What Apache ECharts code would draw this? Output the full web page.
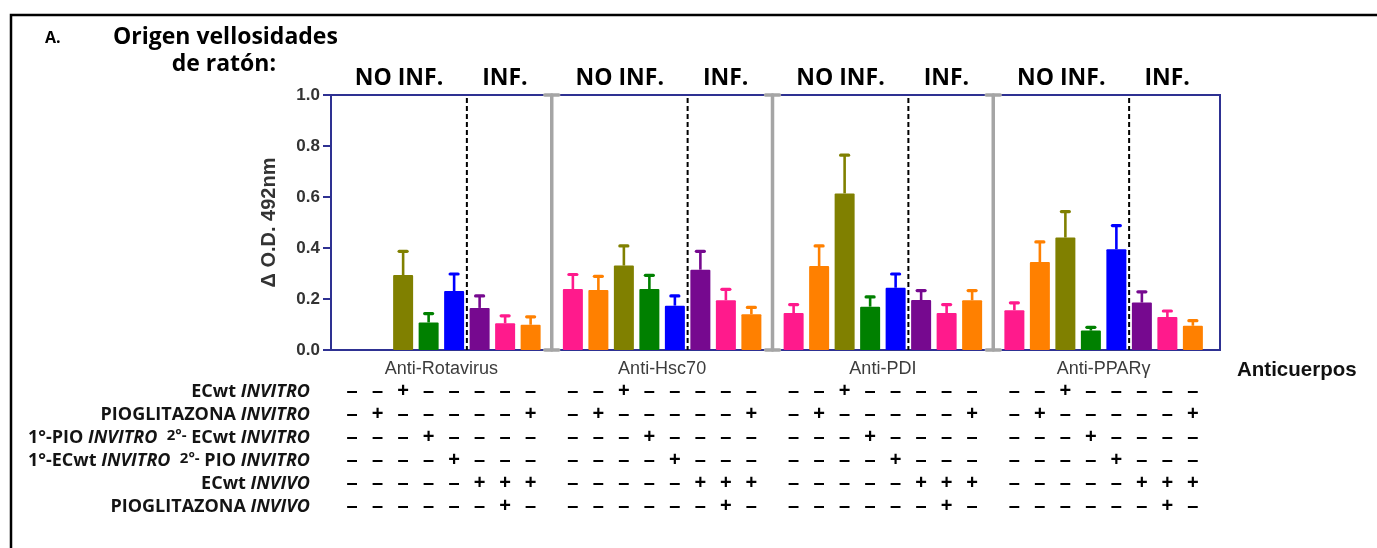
<!DOCTYPE html>
<html>
<head>
<meta charset="utf-8">
<title>Origen vellosidades de ratón</title>
<script src="https://cdn.jsdelivr.net/npm/echarts@6/dist/echarts.min.js"></script>
<style>
  html, body { margin: 0; padding: 0; background: #fff; }
  #main { width: 1377px; height: 548px; }
</style>
</head>
<body>
<div id="main"></div>
<script>
// grupos de anticuerpos (eje x)
var groups = ['Anti-Rotavirus', 'Anti-Hsc70', 'Anti-PDI', 'Anti-PPARγ'];

// 8 condiciones por grupo, mismo orden que la tabla de abajo
var barColors = ['#FF1A8C', '#FF8000', '#808000', '#008000', '#0000FF', '#76098F', '#FF1A8C', '#FF8000'];

// medias (Δ O.D. 492nm)
var rotavirusMean = [null, null, 0.294, 0.108, 0.231, 0.165, 0.105, 0.099];
var hsc70Mean     = [0.239, 0.235, 0.331, 0.239, 0.174, 0.315, 0.195, 0.140];
var pdiMean       = [0.145, 0.329, 0.614, 0.170, 0.244, 0.196, 0.145, 0.195];
var pparMean      = [0.156, 0.345, 0.441, 0.076, 0.395, 0.186, 0.129, 0.095];

// error (barra superior)
var rotavirusErr = [null, null, 0.093, 0.035, 0.067, 0.047, 0.029, 0.031];
var hsc70Err     = [0.057, 0.054, 0.077, 0.054, 0.038, 0.072, 0.043, 0.027];
var pdiErr       = [0.033, 0.079, 0.150, 0.038, 0.054, 0.037, 0.033, 0.038];
var pparErr      = [0.029, 0.079, 0.102, 0.013, 0.093, 0.042, 0.024, 0.020];

// tabla de tratamientos
var rowLabels = [
  'ECwt {i|INVITRO}',
  'PIOGLITAZONA {i|INVITRO}',
  '1°-PIO {i|INVITRO}  {s|2°-} ECwt {i|INVITRO}',
  '1°-ECwt {i|INVITRO}  {s|2°-} PIO {i|INVITRO}',
  'ECwt {i|INVIVO}',
  'PIOGLITAZONA {i|INVIVO}'
];
var signRows = [
  '--+-----',
  '-+-----+',
  '---+----',
  '----+---',
  '-----+++',
  '------+-'
];
var headerLabels = ['NO INF.', 'INF.'];

var meanByGroup = [rotavirusMean, hsc70Mean, pdiMean, pparMean];
var errByGroup = [rotavirusErr, hsc70Err, pdiErr, pparErr];

var NAVY = '#2E3192';
var PITCH = 25.5;   // distancia entre barras
var BAR_W = 20;

var chart = echarts.init(document.getElementById('main'));

// series de barras, una por condicion
var barSeries = barColors.map(function (c, i) {
  return {
    type: 'bar',
    name: 'cond' + (i + 1),
    xAxisIndex: 0, yAxisIndex: 0,
    barWidth: BAR_W,
    barGap: ((PITCH - BAR_W) / BAR_W * 100) + '%',
    itemStyle: { color: c, borderRadius: 1 },
    data: meanByGroup.map(function (g) { return g[i] == null ? '-' : g[i]; })
  };
});

var errData = [];
meanByGroup.forEach(function (g, gi) {
  g.forEach(function (m, i) {
    if (m != null) errData.push([gi, i, m, errByGroup[gi][i]]);
  });
});

var signData = [];
groups.forEach(function (g, gi) {
  signRows.forEach(function (row, r) {
    for (var c = 0; c < row.length; c++) signData.push([gi, r, c, row[c] === '+' ? 1 : 0]);
  });
});

var option = {
  animation: false,
  grid: [
    { left: 331, top: 95, width: 883, height: 255 },
    { left: 331, top: 380, width: 883, height: 138 }
  ],
  xAxis: [
    {
      type: 'category', gridIndex: 0, data: groups,
      axisLine: { lineStyle: { color: NAVY, width: 2 } },
      axisTick: { alignWithLabel: true, length: 7, lineStyle: { color: NAVY, width: 2 } },
      axisLabel: { margin: 10, fontSize: 18, color: '#3c3c3c', fontFamily: 'Liberation Sans' },
      name: 'Anticuerpos', nameLocation: 'end', nameGap: 23,
      nameTextStyle: { fontSize: 20.5, fontWeight: 'bold', color: '#111', fontFamily: 'Liberation Sans',
        align: 'left', verticalAlign: 'top', padding: [10, 0, 0, 0] }
    },
    { type: 'category', gridIndex: 1, data: groups, show: false }
  ],
  yAxis: [
    {
      type: 'value', gridIndex: 0, min: 0, max: 1, interval: 0.2,
      splitLine: { show: false },
      axisLine: { show: true, lineStyle: { color: NAVY, width: 2 } },
      axisTick: { show: true, length: 8, lineStyle: { color: NAVY, width: 2 } },
      axisLabel: { margin: 11, fontSize: 17, fontWeight: 'bold', color: '#333', fontFamily: 'Liberation Sans',
        formatter: function (v) { return v.toFixed(1); } },
      name: 'Δ O.D. 492nm', nameLocation: 'middle', nameGap: 52, nameRotate: 90,
      nameTextStyle: { fontSize: 20, fontWeight: 'bold', color: '#333', fontFamily: 'Liberation Sans' }
    },
    {
      type: 'category', gridIndex: 1, data: rowLabels, inverse: true,
      axisLine: { show: false }, axisTick: { show: false },
      axisLabel: {
        interval: 0, hideOverlap: false,
        margin: 21, fontSize: 18, fontWeight: 'bold', color: '#141414', fontFamily: 'Open Sans',
        rich: {
          i: { fontSize: 18, fontWeight: 'bold', fontStyle: 'italic', color: '#141414', fontFamily: 'Open Sans' },
          s: { fontSize: 15, fontWeight: 'bold', color: '#141414', fontFamily: 'Open Sans', padding: [0, 0, 3, 0] }
        }
      }
    }
  ],
  graphic: [
    // marco exterior de la figura
    { type: 'polyline', shape: { points: [[11, 548], [11, 15], [1377, 15]] },
      style: { stroke: '#000', lineWidth: 2.5, fill: null } },
    // cierre del recuadro del grafico (arriba y derecha)
    { type: 'polyline', shape: { points: [[1213, 350], [1220, 350], [1220, 95], [331, 95]] },
      style: { stroke: NAVY, lineWidth: 2, fill: null } },
    { type: 'text', x: 45, y: 38, style: { text: 'A.', fontSize: 16, fontWeight: 'bold', fontFamily: 'Open Sans',
      fill: '#000', align: 'left', verticalAlign: 'middle' } },
    { type: 'text', x: 113, y: 37, style: { text: 'Origen vellosidades', fontSize: 23, fontWeight: 'bold',
      fontFamily: 'Open Sans', fill: '#000', align: 'left', verticalAlign: 'middle' } },
    { type: 'text', x: 276, y: 64, style: { text: 'de ratón:', fontSize: 23, fontWeight: 'bold',
      fontFamily: 'Open Sans', fill: '#000', align: 'right', verticalAlign: 'middle' } }
  ],
  series: barSeries.concat([
    {
      // barras de error
      type: 'custom', xAxisIndex: 0, yAxisIndex: 0, z: 3,
      encode: { x: 0, y: 2 },
      data: errData,
      renderItem: function (params, api) {
        var gi = api.value(0), i = api.value(1), m = api.value(2), e = api.value(3);
        var base = api.coord([gi, m]);
        var top = api.coord([gi, m + e]);
        var x = base[0] + (i - 3.5) * PITCH;
        var col = barColors[i];
        return {
          type: 'group',
          children: [
            { type: 'line', shape: { x1: x, y1: base[1], x2: x, y2: top[1] },
              style: { stroke: col, lineWidth: 2.6 } },
            { type: 'line', shape: { x1: x - 4, y1: top[1], x2: x + 4, y2: top[1] },
              style: { stroke: col, lineWidth: 3.2, lineCap: 'round' } }
          ]
        };
      }
    },
    {
      // separadores, lineas punteadas y encabezados NO INF. / INF.
      type: 'custom', xAxisIndex: 0, yAxisIndex: 0, z: 4,
      encode: { x: 0 },
      data: groups.map(function (g, gi) { return [gi]; }),
      renderItem: function (params, api) {
        var gi = api.value(0);
        var b = api.coord([gi, 0]);
        var t = api.coord([gi, 1]);
        var band = api.size([1, 0])[0];
        var xDash = b[0] + PITCH;
        var kids = [
          { type: 'line', shape: { x1: xDash, y1: t[1] + 3, x2: xDash, y2: b[1] },
            style: { stroke: '#000', lineWidth: 2, lineDash: [5, 3] } },
          { type: 'text', x: b[0] - band / 2 + 68, y: t[1] - 17,
            style: { text: headerLabels[0], fontSize: 23, fontWeight: 'bold', fontFamily: 'Open Sans',
              fill: '#000', align: 'center', verticalAlign: 'middle' } },
          { type: 'text', x: xDash + 38, y: t[1] - 17,
            style: { text: headerLabels[1], fontSize: 23, fontWeight: 'bold', fontFamily: 'Open Sans',
              fill: '#000', align: 'center', verticalAlign: 'middle' } }
        ];
        if (gi < groups.length - 1) {
          var xs = b[0] + band / 2;
          var gray = { stroke: '#A5A5A5', lineWidth: 3.5, lineCap: 'round' };
          kids.push(
            { type: 'line', shape: { x1: xs, y1: t[1], x2: xs, y2: b[1] }, style: gray },
            { type: 'line', shape: { x1: xs - 7, y1: t[1], x2: xs + 7, y2: t[1] }, style: gray },
            { type: 'line', shape: { x1: xs - 7, y1: b[1], x2: xs + 7, y2: b[1] }, style: gray }
          );
        }
        return { type: 'group', children: kids };
      }
    },
    {
      // signos + / – de la tabla
      type: 'custom', xAxisIndex: 1, yAxisIndex: 1,
      encode: { x: 0, y: 1 },
      data: signData,
      renderItem: function (params, api) {
        var p = api.coord([api.value(0), api.value(1)]);
        var x = p[0] + (api.value(2) - 3.5) * PITCH;
        return {
          type: 'text', x: x, y: p[1],
          style: { text: api.value(3) === 1 ? '+' : '–', fontSize: 20, fontWeight: 'bold',
            fontFamily: 'Liberation Sans', fill: '#000', align: 'center', verticalAlign: 'middle' }
        };
      }
    }
  ])
};

chart.setOption(option);
</script>
</body>
</html>
